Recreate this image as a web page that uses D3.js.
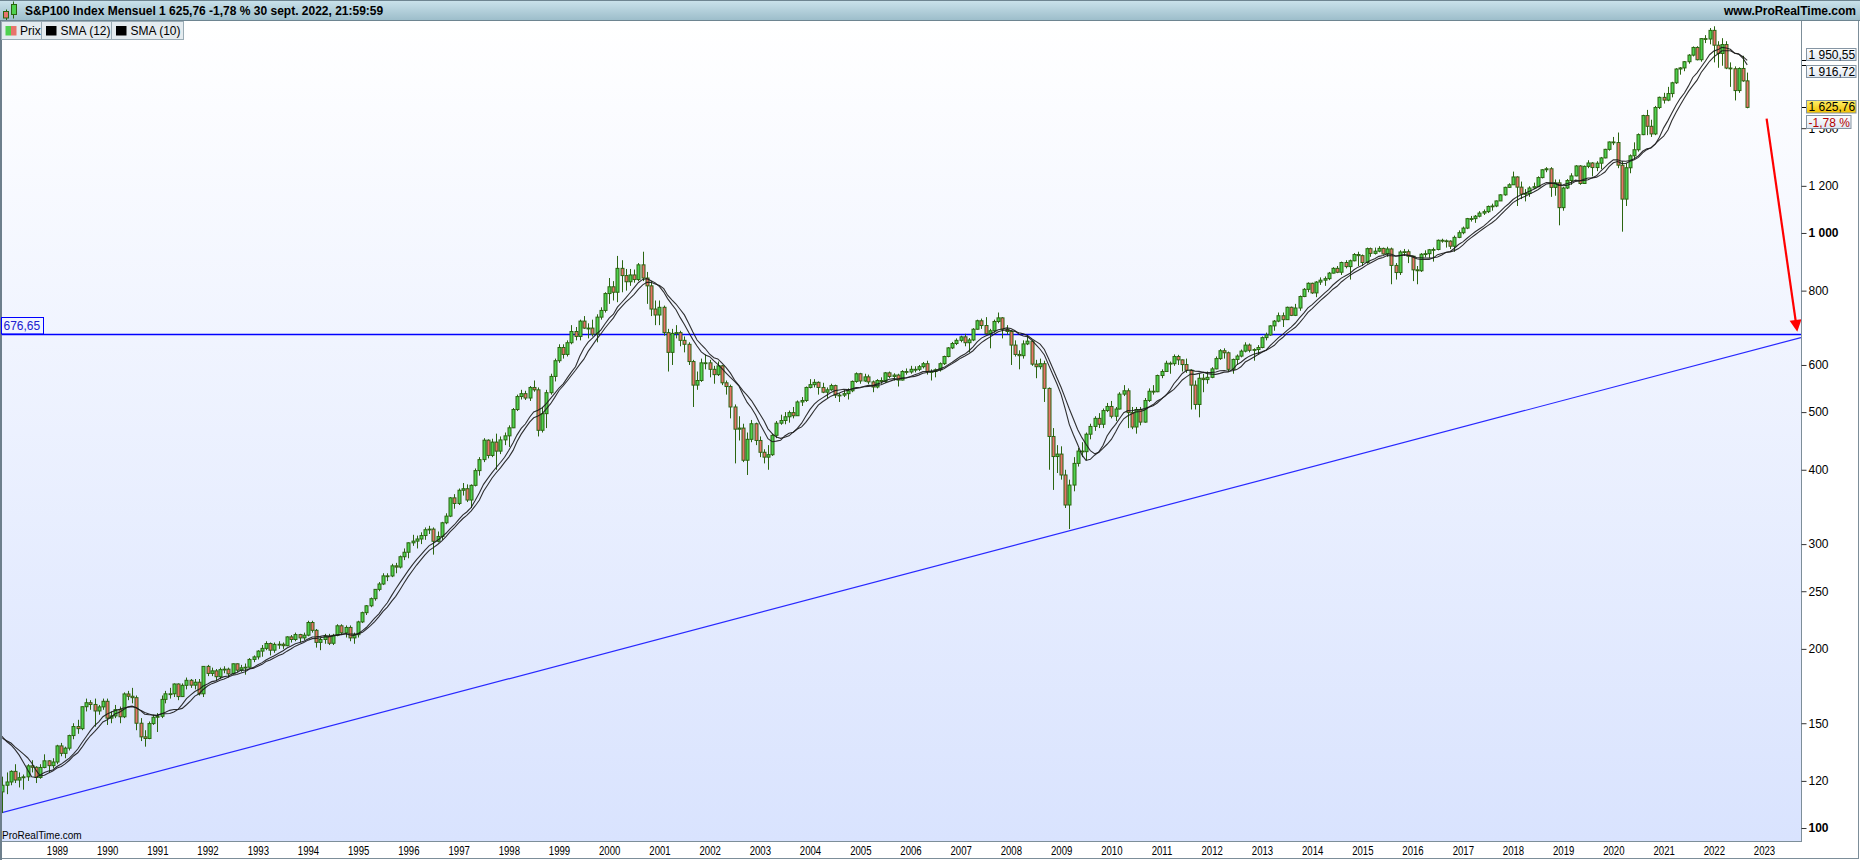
<!DOCTYPE html>
<html><head><meta charset="utf-8">
<script src="https://cdn.jsdelivr.net/npm/d3@7/dist/d3.min.js"></script>
<style>
html,body{margin:0;padding:0;background:#fff;}
svg{display:block;font-family:"Liberation Sans",Arial,Helvetica,sans-serif;}
</style></head><body>
<svg id="chart" width="1860" height="860"></svg>
<script>
// ---------- DATA (monthly S&P 100) ----------
const firstYear = 1987;
const firstOpen = 124;
const closes = [
135,140,145,143,144,151,158,164,160,125,115,118,
119.5,124.5,120.4,121.5,121.9,127.2,126.5,121.6,126.4,129.7,127.3,129.1,
137.4,133.5,136.2,143,148.1,146.9,159.9,162.4,161.3,157.3,159.8,163.3,
153,154.3,158.1,153.8,168,166.5,165.6,150,142.3,141.4,149.8,153.5,
154.1,164.5,168.1,168.1,174.6,166.3,173.7,177.1,173.8,175.8,168.1,186.9,
181.9,183.7,179.6,184.6,184.9,181.6,188.8,184.2,185.9,186.3,192,193.9,
198.3,200.4,204.2,199,203.5,203.6,202.5,209.5,207.4,211.4,208.7,210.9,
221.5,214.9,205.1,207.4,210,204.4,210.8,218.7,212.8,217.3,208.7,211.3,
222,230.1,236.3,242.9,251.8,257.1,265.3,265.2,275.8,274.5,285.7,290.7,
301.5,303.5,306,310.1,317.2,317.9,303.3,309,325.8,334.3,358.8,351.1,
369.5,371.7,355.8,376.6,398.7,416,448.5,422.8,445.2,429.9,449,456.1,
470.5,505,531,537,528,550,545,466,497,539,574,610,
642,625,654,683,670,711,692,692,676,722,741,791,
812,795,872,848,828,850,835,884,840,815,745,728,
750,680,630,678,680,660,650,608,555,565,605,605,
590,578,598,560,552,510,468,470,415,450,478,448,
428,420,424,457,479,484,491,499,493,520,523,550,
556,561,550,540,545,554,534,534,537,543,563,580,
564,573,562,551,565,563,582,574,577,566,585,584,
590,590,596,603,585,585,589,603,620,641,652,660,
669,654,661,689,712,699,677,685,710,720,689,683,
648,625,622,651,658,602,596,603,548,455,421,425,
392,349,377,410,430,429,459,473,488,477,503,511,
492,506,536,543,499,472,505,481,523,542,541,576,
585,604,603,620,612,601,588,555,515,570,567,572,
591,615,634,629,590,613,621,633,648,635,637,642,
667,674,698,711,726,715,750,727,748,782,804,823,
793,827,833,838,856,872,859,892,878,898,920,916,
892,941,924,932,942,922,940,882,858,929,930,914,
867,864,921,923,937,938,972,970,969,950,983,1001,
1019,1057,1057,1067,1080,1086,1108,1110,1132,1159,1193,1205,
1242,1194,1162,1165,1190,1196,1239,1277,1282,1193,1214,1103,
1190,1225,1247,1296,1211,1294,1311,1288,1310,1337,1382,1422,
1419,1300,1140,1287,1348,1380,1463,1575,1511,1467,1625,1690,
1672,1715,1788,1886,1894,1940,1990,2050,1955,2121.4,2118,2190,
2068,2003,2073,1893,1888,1735,1890,1801.44,1625.76
];
const highs = [
137,142,148,148,147,152,159,167,165,163,131,122,
124,125,128,124,123,128,130,127,128,133,130,131,
138,139,137,143.5,150,152,160,165,164,165,161,165,
165,157,161,160,169,170,172,167,153,146,151,155,
156,167,170,172,175,175,175,179,178,178,178,187,
188,186,185,186,187,186,189,189,188,189,193,195,
199,203,206,205,205,206,205,210,211,213,212,213,
223,223,216,209,212,212,212,220,220,219,219,213,
223,231,237,244,252,259,268,268,278,279,287,295,
302,311,310,314,320,322,320,315,327,338,360,364,
372,380,378,378,402,420,452,450,451,460,455,462,
475,508,535,545,543,553,565,550,510,545,580,615,
650,650,660,700,695,715,725,705,715,730,750,795,
840,830,915,900,870,870,868,890,930,860,830,770,
770,755,690,690,700,685,670,655,612,585,615,625,
612,598,608,600,565,556,515,492,478,462,485,480,
455,433,440,460,483,495,500,503,510,523,530,552,
568,568,563,560,550,558,556,538,545,548,565,583,
582,580,578,565,568,572,584,585,581,580,588,592,
598,597,600,607,610,590,592,606,622,643,656,665,
672,677,666,692,715,718,722,690,715,735,722,700,
686,660,635,660,672,660,612,615,610,550,470,440,
438,400,385,420,435,445,462,478,492,498,507,518,
522,510,540,555,548,510,510,510,528,548,555,578,
590,610,608,625,624,613,615,590,565,580,580,585,
595,620,638,640,632,615,625,637,655,652,640,648,
670,680,700,714,735,735,752,752,760,785,808,826,
825,830,842,845,860,876,880,895,900,902,925,930,
920,945,945,945,950,945,948,945,890,935,940,938,
915,880,925,935,940,945,975,978,975,972,990,1010,
1025,1060,1068,1072,1088,1095,1112,1120,1134,1162,1196,1212,
1268,1245,1220,1185,1198,1215,1245,1280,1290,1290,1230,1230,
1195,1232,1260,1300,1300,1298,1325,1315,1320,1342,1385,1425,
1450,1475,1320,1310,1355,1420,1470,1580,1610,1550,1635,1695,
1720,1760,1795,1892,1900,1945,1998,2058,2060,2125,2150,2210,
2225,2100,2125,2100,1935,1905,1898,1985,1860
];
const lows = [
123,133,139,136,138,143,150,156,154,105,111,106,
114,118,119,117,116,120,124,119,121,126,124,126,
128,132,131,135,141,144,146,157,158,148,155,158,
149,150,153,150,153,164,162,146,140,137,141,149,
145,153,162,165,166,164,166,171,172,171,167,166,
180,180,177,178,182,179,181,183,183,181,186,190,
192,194,199,195,197,200,200,202,205,206,205,207,
210,213,201,199,204,203,203,210,211,209,206,204,
209,221,228,235,241,250,256,260,264,268,273,282,
284,298,295,300,305,312,288,302,305,324,333,344,
349,362,353,345,375,391,412,418,420,400,425,440,
437,470,502,525,524,522,541,455,462,470,535,563,
605,615,620,650,660,660,690,665,670,655,715,735,
760,770,765,795,800,815,825,830,830,760,725,700,
700,672,585,600,665,645,630,600,510,545,562,590,
572,558,575,555,535,488,410,448,412,392,445,440,
420,410,400,422,452,476,477,480,488,493,512,520,
548,550,535,538,528,543,528,520,530,525,540,560,
558,562,557,540,548,558,560,570,565,552,565,578,
580,583,586,592,578,565,572,585,600,618,638,648,
655,645,630,658,688,690,675,640,680,705,665,675,
600,620,590,615,648,598,570,590,520,400,370,395,
385,345,318,368,405,420,415,450,465,470,470,500,
488,483,505,532,470,468,460,475,480,520,535,540,
570,585,580,598,600,585,582,505,505,490,540,558,
570,590,612,615,585,580,600,618,630,630,610,625,
640,660,672,685,708,695,715,725,725,740,780,795,
790,780,818,815,833,855,856,850,872,835,896,880,
880,888,912,920,928,920,912,820,835,850,915,890,
830,820,860,910,908,895,935,963,945,940,930,980,
995,1015,1045,1040,1062,1072,1080,1090,1105,1132,1155,1190,
1205,1110,1140,1130,1150,1185,1195,1235,1265,1150,1155,1030,
1090,1185,1205,1245,1205,1210,1285,1245,1270,1280,1335,1375,
1405,1285,1005,1110,1260,1330,1370,1460,1460,1450,1460,1615,
1650,1665,1690,1780,1845,1870,1925,1980,1950,1940,2085,2075,
1935,1895,1910,1885,1760,1670,1720,1795,1620
];
const smaPeriods = [12, 10];
const yTicks = [100,120,150,200,250,300,400,500,600,800,1000,1200,1500];
const boldTicks = [100,1000];
const yearLabels = [1989,1990,1991,1992,1993,1994,1995,1996,1997,1998,1999,2000,2001,2002,2003,2004,2005,2006,2007,2008,2009,2010,2011,2012,2013,2014,2015,2016,2017,2018,2019,2020,2021,2022,2023];
const levelValue = 676.65;
const trendLine = [["1987-11-25",106.1],["2023-09-27",667]];
const arrowPts = [["2023-01-20",1557],["2023-08-31",682]];
const titleText = "S&P100 Index Mensuel 1 625,76 -1,78 % 30 sept. 2022, 21:59:59";
const siteText = "www.ProRealTime.com";
const changeText = "-1,78 %";
const legendItems = ["Prix","SMA (12)","SMA (10)"];
const watermark = "ProRealTime.com";

// ---------- BUILD ----------
const fr = d3.formatLocale({decimal:",", thousands:" ", grouping:[3], currency:["","€"]});
const fmt2 = fr.format(",.2f"), fmtInt = fr.format(",d");
const parse = d3.timeParse("%Y-%m-%d");

const bars = closes.map((c,i)=>({
  date:new Date(firstYear, i, 1),
  open: i ? closes[i-1] : firstOpen,
  high: highs[i], low: lows[i], close: c
}));
function sma(n){
  const out=[];
  for(let i=n-1;i<closes.length;i++) out.push({date:bars[i].date, v:d3.mean(closes.slice(i-n+1,i+1))});
  return out;
}
const smas = smaPeriods.map(sma);

const W=1860, H=860;
const P = {l:2, r:1801, t:21, b:841};
const x = d3.scaleTime().domain([new Date(1989,0,1), new Date(2023,0,1)]).range([57,1764]);
const y = d3.scaleLog().domain([95.1, 2271]).range([P.b, P.t]);

const svg = d3.select("#chart");
const defs = svg.append("defs");
function vGrad(id, stops){
  const g = defs.append("linearGradient").attr("id",id).attr("x1",0).attr("y1",0).attr("x2",0).attr("y2",1);
  stops.forEach(s=>g.append("stop").attr("offset",s[0]).attr("stop-color",s[1]));
}
vGrad("bg",[["0%","#ffffff"],["100%","#d9e3fe"]]);
vGrad("hdr",[["0%","#cbe3ec"],["100%","#9bbcc9"]]);
vGrad("lbl",[["0%","#ffffff"],["100%","#dde6f1"]]);
vGrad("yel",[["0%","#fff06a"],["100%","#f2c000"]]);
defs.append("clipPath").attr("id","clip").append("rect")
  .attr("x",P.l).attr("y",P.t).attr("width",P.r-P.l).attr("height",P.b-P.t);

svg.append("rect").attr("width",W).attr("height",H).attr("fill","#fff");
svg.append("rect").attr("x",P.l).attr("y",P.t).attr("width",P.r-P.l).attr("height",P.b-P.t).attr("fill","url(#bg)");

const plot = svg.append("g").attr("clip-path","url(#clip)");

// trend line + level line
plot.append("line")
  .attr("x1",x(parse(trendLine[0][0]))).attr("y1",y(trendLine[0][1]))
  .attr("x2",x(parse(trendLine[1][0]))).attr("y2",y(trendLine[1][1]))
  .attr("stroke","#2828ff").attr("stroke-width",1.2);
plot.append("line").attr("x1",P.l).attr("x2",P.r)
  .attr("y1",Math.round(y(levelValue))+0.5).attr("y2",Math.round(y(levelValue))+0.5)
  .attr("stroke","#0000ff").attr("stroke-width",1.3);

// candles
const outline="#2b6510", upFill="#4fd14f", dnFill="#e8736b";
const cg = plot.append("g");
cg.selectAll("line.w").data(bars).join("line")
  .attr("x1",d=>Math.round(x(d.date))+0.5).attr("x2",d=>Math.round(x(d.date))+0.5)
  .attr("y1",d=>y(d.high)).attr("y2",d=>y(d.low))
  .attr("stroke",outline).attr("stroke-width",1);
cg.selectAll("rect").data(bars).join("rect")
  .attr("x",d=>Math.round(x(d.date))-1)
  .attr("width",3)
  .attr("y",d=>y(Math.max(d.open,d.close)))
  .attr("height",d=>Math.max(0.8, y(Math.min(d.open,d.close))-y(Math.max(d.open,d.close))))
  .attr("fill",d=>d.close>=d.open?upFill:dnFill)
  .attr("stroke",outline).attr("stroke-width",1);

// SMA lines
const line = d3.line().x(d=>x(d.date)).y(d=>y(d.v)).curve(d3.curveLinear);
smas.forEach(s=>{
  plot.append("path").attr("d",line(s)).attr("fill","none")
    .attr("stroke","#1a1a1a").attr("stroke-width",1.1).attr("stroke-opacity",0.9);
});

// red arrow
{
  const x1=x(parse(arrowPts[0][0])), y1=y(arrowPts[0][1]);
  const x2=x(parse(arrowPts[1][0])), y2=y(arrowPts[1][1]);
  const dx=x2-x1, dy=y2-y1, L=Math.hypot(dx,dy), ux=dx/L, uy=dy/L;
  const hl=12, hw=6;
  const bx=x2-ux*hl, by=y2-uy*hl;
  svg.append("line").attr("x1",x1).attr("y1",y1).attr("x2",bx+ux*2).attr("y2",by+uy*2)
    .attr("stroke","#ff0000").attr("stroke-width",2.2);
  svg.append("path").attr("d",`M${x2},${y2}L${bx-uy*hw},${by+ux*hw}L${bx+uy*hw},${by-ux*hw}Z`)
    .attr("fill","#ff0000");
}

// borders
svg.append("rect").attr("x",P.r).attr("y",P.t).attr("width",W-P.r).attr("height",H-P.t).attr("fill","#fff");
svg.append("rect").attr("x",0).attr("y",P.b).attr("width",P.r).attr("height",H-P.b).attr("fill","#fff");
svg.append("line").attr("x1",P.r+0.5).attr("x2",P.r+0.5).attr("y1",P.t).attr("y2",P.b+0.5).attr("stroke","#7d8e99");
svg.append("line").attr("x1",0).attr("x2",P.r+1).attr("y1",P.b+0.5).attr("y2",P.b+0.5).attr("stroke","#7d8e99");
svg.append("rect").attr("x",0.5).attr("y",0.5).attr("width",1858).attr("height",858)
  .attr("fill","none").attr("stroke","#7d8e99");
svg.append("line").attr("x1",1).attr("x2",1).attr("y1",0).attr("y2",860).attr("stroke","#6d7f8c").attr("stroke-width",2);

// y axis
const yAxis = svg.append("g").attr("transform",`translate(${P.r+0.5},0)`)
  .call(d3.axisRight(y).tickValues(yTicks).tickSize(5).tickPadding(2).tickFormat(fmtInt));
yAxis.select(".domain").remove();
yAxis.selectAll(".tick line").attr("stroke","#333");
yAxis.selectAll(".tick text").attr("fill","#000").style("font-size","12px")
  .style("font-family",'"Liberation Sans",Arial,sans-serif')
  .style("font-weight",d=>boldTicks.includes(d)?"bold":"normal");

// x axis (condensed year labels)
const xAxis = svg.append("g").attr("transform",`translate(0,${P.b})`)
  .call(d3.axisBottom(x).tickValues(yearLabels.map(v=>new Date(v,0,1))).tickSize(0).tickPadding(5).tickFormat(d3.timeFormat("%Y")));
xAxis.select(".domain").remove();
xAxis.selectAll(".tick text").attr("fill","#000").style("font-size","12px")
  .style("font-family",'"Liberation Sans",Arial,sans-serif')
  .attr("transform","scale(0.8,1)");

// watermark
svg.append("text").attr("x",2).attr("y",839).attr("font-size",10).attr("fill","#000").text(watermark);

// right value labels
const last = bars[bars.length-1];
const s12 = smas[0][smas[0].length-1].v, s10 = smas[1][smas[1].length-1].v;
function tickMark(v){ const yy=Math.round(y(v))+0.5; svg.append("line").attr("x1",P.r+1).attr("x2",P.r+6).attr("y1",yy).attr("y2",yy).attr("stroke","#000"); return y(v); }
function box(yTop, w, h, fill, txt, color){
  svg.append("rect").attr("x",1806.5).attr("y",yTop+0.5).attr("width",w).attr("height",h)
    .attr("fill",fill).attr("stroke","#8595a3");
  svg.append("text").attr("x",1808.5).attr("y",yTop+h-1.5).attr("font-size",12).attr("fill",color).text(txt);
}
const t1=tickMark(s12), t2=tickMark(s10), t3=tickMark(last.close);
box(Math.round(t1)-12, 49.5, 12, "url(#lbl)", fmt2(s12), "#000");
box(Math.round(t2), 49.5, 12, "url(#lbl)", fmt2(s10), "#000");
box(Math.round(t3)-7, 49.5, 12.5, "url(#yel)", fmt2(last.close), "#000");
box(Math.round(t3)+8, 44.5, 13, "url(#lbl)", changeText, "#b30000");

// level label
{
  const ly=Math.round(y(levelValue));
  svg.append("rect").attr("x",1.5).attr("y",ly-16.5).attr("width",42).attr("height",16.5)
    .attr("fill","none").attr("stroke","#0000ff");
  svg.append("text").attr("x",3.5).attr("y",ly-4).attr("font-size",12).attr("fill","#2020d0").text(fmt2(levelValue));
}

// header
svg.append("rect").attr("x",0).attr("y",0).attr("width",W).attr("height",21).attr("fill","url(#hdr)");
svg.append("line").attr("x1",0).attr("x2",W).attr("y1",0.5).attr("y2",0.5).attr("stroke","#6e8591");
svg.append("line").attr("x1",0).attr("x2",W).attr("y1",20.5).attr("y2",20.5).attr("stroke","#6e8591");
// icon
svg.append("line").attr("x1",6.5).attr("x2",6.5).attr("y1",9.5).attr("y2",20).attr("stroke",outline);
svg.append("rect").attr("x",3.5).attr("y",11.5).attr("width",5).attr("height",6.5).attr("fill",dnFill).attr("stroke",outline);
svg.append("line").attr("x1",13.5).attr("x2",13.5).attr("y1",1.5).attr("y2",18.5).attr("stroke",outline);
svg.append("rect").attr("x",11.5).attr("y",4.5).attr("width",5).attr("height",10).attr("fill",upFill).attr("stroke",outline);
svg.append("text").attr("x",25).attr("y",15).attr("font-size",12).attr("font-weight","bold").attr("fill","#000").text(titleText);
svg.append("text").attr("x",1856).attr("y",15).attr("text-anchor","end").attr("font-size",12).attr("font-weight","bold").attr("fill","#000").text(siteText);

// legend
const lg = svg.append("g");
const boxes = [[1.5,40],[41.5,70],[111.5,72]];
boxes.forEach((b,i)=>{
  lg.append("rect").attr("x",b[0]).attr("y",21.5).attr("width",b[1]).attr("height",18)
    .attr("fill","#e4ebef").attr("stroke","#9aabb5");
  if(i===0){
    lg.append("rect").attr("x",b[0]+4).attr("y",26).attr("width",5.5).attr("height",9.5).attr("fill","#4fd14f");
    lg.append("rect").attr("x",b[0]+9.5).attr("y",26).attr("width",5.5).attr("height",9.5).attr("fill","#e8736b");
  } else {
    lg.append("rect").attr("x",b[0]+4.5).attr("y",26).attr("width",10.5).attr("height",9.5).attr("fill","#000");
  }
  lg.append("text").attr("x",b[0]+(i===0?18.5:19)).attr("y",35).attr("font-size",12).attr("fill","#000").text(legendItems[i]);
});
</script></body></html>
